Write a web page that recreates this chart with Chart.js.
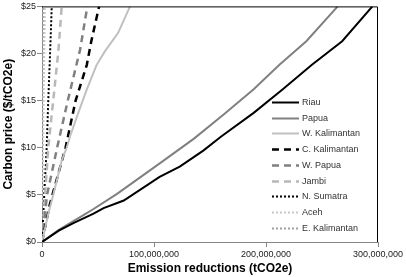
<!DOCTYPE html>
<html>
<head>
<meta charset="utf-8">
<script src="https://cdn.jsdelivr.net/npm/chart.js@4.4.0/dist/chart.umd.min.js"></script>
<style>
html, body { margin: 0; padding: 0; background: #fff; }
#wrap { width: 406px; height: 277px; }
</style>
</head>
<body>
<div id="wrap"><canvas id="chart"></canvas></div>
<script>
// emission reductions in millions of tCO2e, carbon price in $/tCO2e
var priceTicks = [0, 5, 10, 15, 20, 25];
var reductionTicks = [0, 100000000, 200000000, 300000000];

var riauX = [0, 15, 28, 46, 55, 73, 105, 123, 144, 160, 189, 215, 241, 268, 295];
var riauY = [0, 1.2, 2.0, 3.0, 3.6, 4.4, 6.9, 8.0, 9.7, 11.2, 13.7, 16.2, 18.8, 21.3, 25];

var papuaX = [0, 15, 37, 46, 67, 107, 136, 163, 189, 212, 236, 264];
var papuaY = [0, 1.3, 2.85, 3.5, 5.1, 8.5, 11.0, 13.6, 16.2, 18.8, 21.3, 25];

var wKalX = [0, 5.6, 10, 17.6, 22, 25, 32.4, 40, 48.8, 56, 68, 78.6];
var wKalY = [0, 3, 5, 8.65, 10, 11.2, 13.7, 16.2, 18.8, 20.2, 22.2, 25];

var cKalX = [0, 7, 14, 21, 30, 40, 44, 51];
var cKalY = [0, 4, 7, 10, 15, 18.8, 21.3, 25];

var wPapuaX = [0, 4.5, 13.5, 23, 34, 40.5];
var wPapuaY = [0, 5, 10, 15, 20.4, 25];

var jambiX = [0, 2.7, 5.6, 10, 14.6, 17.6];
var jambiY = [0, 5, 10, 15, 20.2, 25];

var nSumX = [0, 2, 4.2, 5.6, 7.2, 8.7];
var nSumY = [0, 5, 10, 15, 20, 25];

var acehX = [0, 1, 2.5];
var acehY = [0, 10, 25];

var eKalX = [0, 0.5, 1.2];
var eKalY = [0, 10, 25];

function pts(xs, ys) {
  var out = [];
  for (var i = 0; i < xs.length; i++) {
    out.push({ x: xs[i] * 1000000, y: ys[i] });
  }
  return out;
}

function series(label, xs, ys, color, width, dash) {
  return {
    label: label,
    data: pts(xs, ys),
    borderColor: color,
    borderWidth: width,
    borderDash: dash,
    pointRadius: 0,
    tension: 0,
    fill: false
  };
}

var datasets = [
  series('Riau', riauX, riauY, '#000000', 2, []),
  series('Papua', papuaX, papuaY, '#808080', 2, []),
  series('W. Kalimantan', wKalX, wKalY, '#c0c0c0', 2, []),
  series('C. Kalimantan', cKalX, cKalY, '#000000', 2.5, [7, 5]),
  series('W. Papua', wPapuaX, wPapuaY, '#808080', 2.5, [7, 5]),
  series('Jambi', jambiX, jambiY, '#b8b8b8', 2.5, [7, 5]),
  series('N. Sumatra', nSumX, nSumY, '#000000', 2, [2, 2]),
  series('Aceh', acehX, acehY, '#c8c8c8', 2, [2, 2]),
  series('E. Kalimantan', eKalX, eKalY, '#a0a0a0', 2, [2, 2])
];

// legend drawn inside the plot + top/right frame
var legendBox = {
  id: 'legendBox',
  afterDraw: function(chart) {
    var ctx = chart.ctx;
    var a = chart.chartArea;
    ctx.save();
    ctx.strokeStyle = '#000';
    ctx.lineWidth = 1;
    ctx.setLineDash([]);
    ctx.beginPath();
    ctx.moveTo(a.left, a.top + 0.5);
    ctx.lineTo(a.right - 0.5, a.top + 0.5);
    ctx.lineTo(a.right - 0.5, a.bottom);
    ctx.stroke();

    var x0 = 272, y0 = 102, step = 15.7;
    ctx.font = '9px "Liberation Sans", Arial, sans-serif';
    ctx.textBaseline = 'middle';
    ctx.textAlign = 'left';
    chart.data.datasets.forEach(function(ds, i) {
      var y = Math.round(y0 + i * step) + 0.5;
      ctx.strokeStyle = ds.borderColor;
      ctx.lineWidth = ds.borderWidth;
      ctx.setLineDash(ds.borderDash || []);
      ctx.beginPath();
      ctx.moveTo(x0, y);
      ctx.lineTo(x0 + 27, y);
      ctx.stroke();
      ctx.setLineDash([]);
      ctx.fillStyle = '#333';
      ctx.fillText(ds.label, x0 + 30, y);
    });
    ctx.restore();
  }
};

Chart.defaults.font.family = '"Liberation Sans", Arial, sans-serif';
Chart.defaults.color = '#222';

var ctx = document.getElementById('chart');
var myChart = new Chart(ctx, {
  type: 'line',
  data: { datasets: datasets },
  options: {
    responsive: true,
    maintainAspectRatio: false,
    animation: false,
    layout: { padding: { top: 5, right: 28, left: 0, bottom: 0 } },
    plugins: {
      legend: { display: false },
      tooltip: { enabled: false }
    },
    scales: {
      x: {
        type: 'linear',
        min: 0,
        max: 300000000,
        afterFit: function(s) { s.height = 35; },
        afterBuildTicks: function(s) {
          s.ticks = reductionTicks.map(function(v) { return { value: v }; });
        },
        ticks: {
          font: { size: 9 },
          padding: 2,
          maxRotation: 0,
          callback: function(v) { return v.toLocaleString('en-US'); }
        },
        grid: { drawOnChartArea: false, drawTicks: true, tickLength: 5, color: '#868686' },
        border: { display: true, color: '#868686', width: 1 },
        title: {
          display: true,
          text: 'Emission reductions (tCO2e)',
          font: { size: 12, weight: 'bold' },
          color: '#000',
          padding: { top: 0, bottom: 1 }
        }
      },
      y: {
        min: 0,
        max: 25,
        afterFit: function(s) { s.width = 42; },
        afterBuildTicks: function(s) {
          s.ticks = priceTicks.map(function(v) { return { value: v }; });
        },
        ticks: {
          font: { size: 9 },
          padding: 1,
          callback: function(v) { return '$' + v; }
        },
        grid: { drawOnChartArea: false, drawTicks: true, tickLength: 5, color: '#868686' },
        border: { display: true, color: '#868686', width: 1 },
        title: {
          display: true,
          text: 'Carbon price ($/tCO2e)',
          font: { size: 12, weight: 'bold' },
          color: '#000',
          padding: { top: 1, bottom: 0 }
        }
      }
    }
  },
  plugins: [legendBox]
});
</script>
</body>
</html>
